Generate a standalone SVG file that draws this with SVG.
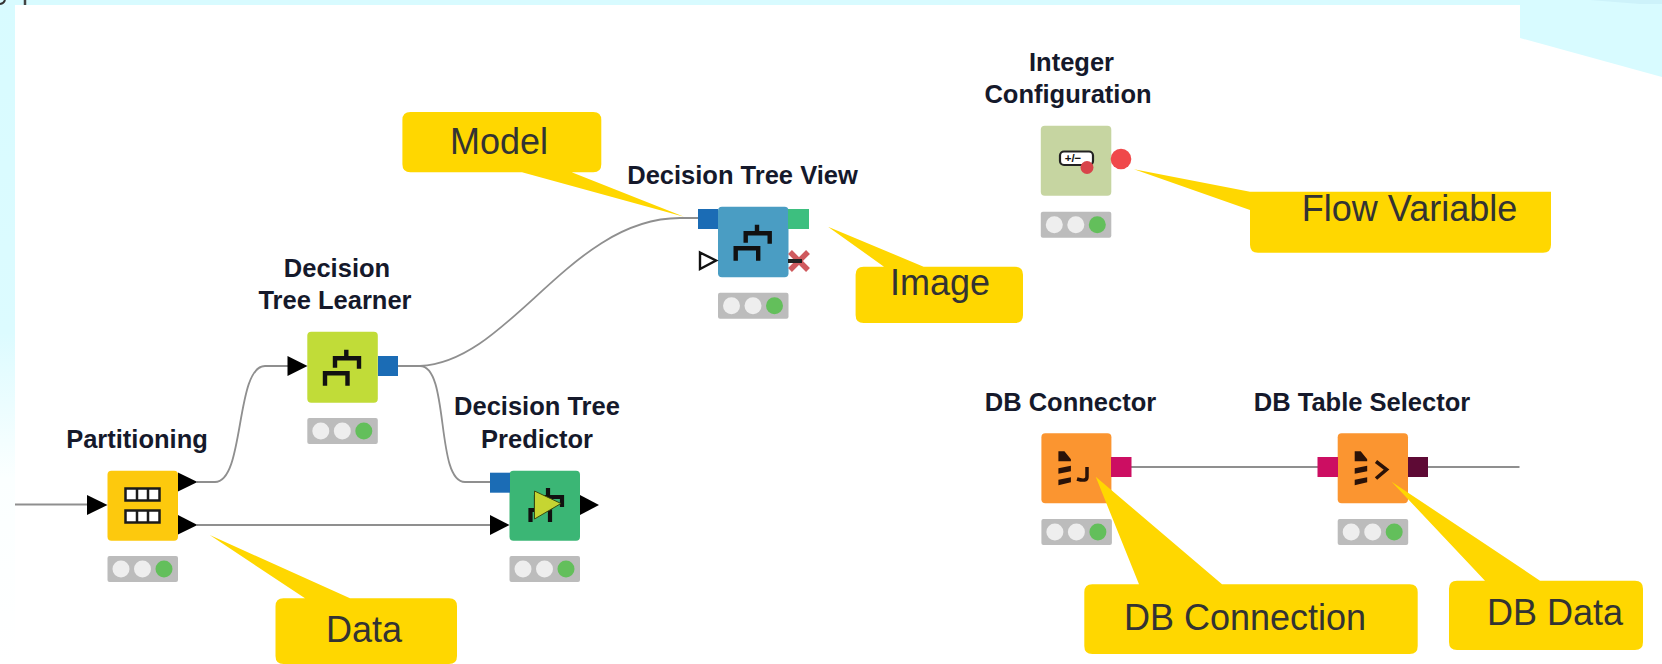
<svg xmlns="http://www.w3.org/2000/svg" xmlns:xlink="http://www.w3.org/1999/xlink" width="1662" height="664" viewBox="0 0 1662 664">
<style>
.lbl{font-family:"Liberation Sans",Arial,sans-serif;font-weight:700;font-size:25.5px;fill:#15192b;text-anchor:middle}
.co{fill:#ffd700}
.cot{font-family:"Liberation Sans",Arial,sans-serif;font-size:36px;fill:#333;text-anchor:middle}
.wire{fill:none;stroke:#8f8f8f;stroke-width:1.8}
.ico{fill:none;stroke:#111;stroke-width:4.4}
.port{stroke:none}
.arrow{fill:#000}
.blue{fill:#1b6cb5}
</style>
<defs>
<linearGradient id="lg" x1="0" y1="0" x2="0" y2="1">
<stop offset="0" stop-color="#d8fbff"/><stop offset="0.5" stop-color="#dcfbff"/><stop offset="0.72" stop-color="#fbffff"/><stop offset="1" stop-color="#fff"/>
</linearGradient>
<g id="status"><rect width="70.5" height="26" rx="2" fill="#bcbcbc"/><circle cx="13.5" cy="13" r="8.5" fill="#eeeeee"/><circle cx="35" cy="13" r="8.5" fill="#eeeeee"/><circle cx="56.5" cy="13" r="8.5" fill="#63bf5b"/></g>
<path id="tree" class="ico" d="M39 18V26M27.700 36V26.500H51.700V37M17.700 54V41.500H40.200V54"/>
<path id="stack" d="M17 18L23 18L29.500 26L29.500 28L17 28ZM17 35L29.500 32.500L29.500 38L17 40.500ZM17 46.500L29.500 44L29.500 49L17 52Z" fill="#2a1208"/>
</defs>

<rect width="1662" height="664" fill="#fff"/>
<rect width="15" height="664" fill="url(#lg)"/>
<rect width="1662" height="5" fill="#d8fbff"/>
<polygon points="1520,0 1662,0 1662,77 1520,38" fill="#d8fbff"/>
<polygon points="1590,0 1662,0 1662,4 1640,4" fill="#cdf2fa"/>
<rect x="15" y="5" width="1505" height="659" fill="#fff"/>
<path d="M0 4Q4 3.500 5 0" fill="none" stroke="#333" stroke-width="2"/>
<path d="M25 0V5" fill="none" stroke="#444" stroke-width="2.500"/>

<g id="connectors">
<path class="wire" d="M15 504.500H88"/>
<path class="wire" d="M197 482H215C245 482 235 366 265 366H288"/>
<path class="wire" d="M197 525H490"/>
<path class="wire" d="M397 366H420C450 366 435 482 465 482H491"/>
<path class="wire" d="M397 366H420C510 362 570 218 680 218H699"/>
<path class="wire" d="M1131 467H1318"/>
<path class="wire" d="M1427 467H1519.500"/>
</g>

<g id="node-partitioning">
<text class="lbl" x="137" y="448">Partitioning</text>
<rect x="107.500" y="470.700" width="70.500" height="70" rx="4" fill="#fdc90d"/>
<g fill="#fff" stroke="#1a1a1a" stroke-width="2.500">
<rect x="125.500" y="488.500" width="34" height="12"/><path d="M137 488.500V500.500M148 488.500V500.500"/>
<rect x="125.500" y="510.500" width="34" height="12"/><path d="M137 510.500V522.500M148 510.500V522.500"/>
</g>
<polygon class="arrow" points="87,495 107.500,505 87,515"/>
<polygon class="arrow" points="178,472.500 197.500,482 178,491.500"/>
<polygon class="arrow" points="178,515 197.500,525 178,534.500"/>
<use xlink:href="#status" x="107.500" y="556"/>
</g>

<g id="node-learner">
<text class="lbl" x="337" y="277">Decision</text>
<text class="lbl" x="335" y="309">Tree Learner</text>
<rect x="307.300" y="331.700" width="70.500" height="71" rx="4" fill="#c1dc38"/>
<use xlink:href="#tree" x="307.300" y="331.700"/>
<polygon class="arrow" points="287.500,356 307.500,366 287.500,376"/>
<rect class="port blue" x="378" y="356" width="20" height="20"/>
<use xlink:href="#status" x="307.300" y="418"/>
</g>

<g id="node-predictor">
<text class="lbl" x="537" y="415">Decision Tree</text>
<text class="lbl" x="537" y="448">Predictor</text>
<rect x="509.500" y="470.700" width="70.500" height="70" rx="4" fill="#3bb675"/>
<path d="M530.500 522V510H550V522M536 510V497H562V507M548 488V497" fill="none" stroke="#111" stroke-width="4.200"/>
<polygon points="534.500,491 561,503.500 534.500,519" fill="#c6d532" stroke="#3a4a10" stroke-width="1"/>
<rect class="port blue" x="490" y="472.700" width="20" height="20"/>
<polygon class="arrow" points="490,515 509.500,525 490,535"/>
<polygon class="arrow" points="580,495 599,505 580,515"/>
<use xlink:href="#status" x="509.500" y="556"/>
</g>

<g id="node-view">
<text class="lbl" x="742.500" y="184">Decision Tree View</text>
<rect x="718" y="206.700" width="70.500" height="70.500" rx="4" fill="#4a9dc3"/>
<use xlink:href="#tree" x="718" y="206.700"/>
<rect class="port blue" x="698" y="209" width="20" height="20"/>
<rect class="port" x="788" y="209" width="21" height="20" fill="#3dbf7f"/>
<polygon points="700,252.500 716,260.500 700,269" fill="#fff" stroke="#111" stroke-width="2.400"/>
<path d="M790 252L808 270M808 252L790 270" stroke="#cf5a5e" stroke-width="5.500" fill="none"/>
<path d="M788 261H802" stroke="#222" stroke-width="4" fill="none"/>
<use xlink:href="#status" x="718" y="292.700"/>
</g>

<g id="node-integer">
<text class="lbl" x="1071.500" y="70.700">Integer</text>
<text class="lbl" x="1068" y="102.700">Configuration</text>
<rect x="1040.800" y="125.700" width="70.500" height="70" rx="4" fill="#c6d5a1"/>
<rect x="1060" y="151.500" width="33" height="13.500" rx="4" fill="#fff" stroke="#222" stroke-width="2.200"/>
<text x="1073" y="162" font-family="Liberation Sans,Arial,sans-serif" font-weight="700" font-size="11.500" fill="#111" text-anchor="middle">+/−</text>
<circle cx="1087" cy="167.500" r="6.500" fill="#d8444a"/>
<circle cx="1121" cy="159" r="10.300" fill="#f0484a"/>
<use xlink:href="#status" x="1040.800" y="211.700"/>
</g>

<g id="node-dbconnector">
<text class="lbl" x="1070.500" y="410.700">DB Connector</text>
<rect x="1041.400" y="433.300" width="70" height="70" rx="4" fill="#fb9530"/>
<use xlink:href="#stack" x="1041.400" y="433.300"/>
<path d="M1087 467V477Q1087 482 1077 479" fill="none" stroke="#2a1208" stroke-width="3.500"/>
<rect class="port" x="1111" y="457" width="20.500" height="20" fill="#cc0e62"/>
<use xlink:href="#status" x="1041.400" y="519"/>
</g>

<g id="node-dbselector">
<text class="lbl" x="1362" y="410.700">DB Table Selector</text>
<rect x="1337.700" y="433.300" width="70.300" height="70" rx="4" fill="#fb9530"/>
<use xlink:href="#stack" x="1337.700" y="433.300"/>
<path d="M1376 461.500L1386.500 469.500L1376 478.500" fill="none" stroke="#2a1208" stroke-width="3.600"/>
<rect class="port" x="1317.500" y="457" width="20.500" height="20" fill="#cc0e62"/>
<rect class="port" x="1408" y="457" width="20" height="20" fill="#5e0a35"/>
<use xlink:href="#status" x="1337.700" y="519"/>
</g>

<g id="callout-data">
<path class="co" d="M283.500 598.300H305L209.700 535L350 598.300H449Q457 598.300 457 606.300V656Q457 664 449 664H283.500Q275.500 664 275.500 656V606.300Q275.500 598.300 283.500 598.300Z"/>
<text class="cot" x="364" y="642">Data</text>
</g>
<g id="callout-model">
<path class="co" d="M410.400 112H593.300Q601.300 112 601.300 120V164.300Q601.300 172.300 593.300 172.300H571.700L684 216.700L522 172.300H410.400Q402.400 172.300 402.400 164.300V120Q402.400 112 410.400 112Z"/>
<text class="cot" x="499" y="154">Model</text>
</g>
<g id="callout-image">
<path class="co" d="M863.600 266.700H884L828 226.700L923.600 266.700H1015Q1023 266.700 1023 274.700V315Q1023 323 1015 323H863.600Q855.600 323 855.600 315V274.700Q855.600 266.700 863.600 266.700Z"/>
<text class="cot" x="940" y="295">Image</text>
</g>
<g id="callout-flow">
<path class="co" d="M1250 191.700L1134 169.300L1250 210V244.700Q1250 252.700 1258 252.700H1543Q1551 252.700 1551 244.700V191.700Z"/>
<text class="cot" x="1409.500" y="221">Flow Variable</text>
</g>
<g id="callout-dbconnection">
<path class="co" d="M1092.300 584.300H1139L1095.700 476.700L1222 584.300H1409.700Q1417.700 584.300 1417.700 592.300V646Q1417.700 654 1409.700 654H1092.300Q1084.300 654 1084.300 646V592.300Q1084.300 584.300 1092.300 584.300Z"/>
<text class="cot" x="1245" y="630">DB Connection</text>
</g>
<g id="callout-dbdata">
<path class="co" d="M1457 580.700H1485L1391.600 481.700L1540 580.700H1635Q1643 580.700 1643 588.700V642Q1643 650 1635 650H1457Q1449 650 1449 642V588.700Q1449 580.700 1457 580.700Z"/>
<text class="cot" x="1555" y="625">DB Data</text>
</g>
</svg>
